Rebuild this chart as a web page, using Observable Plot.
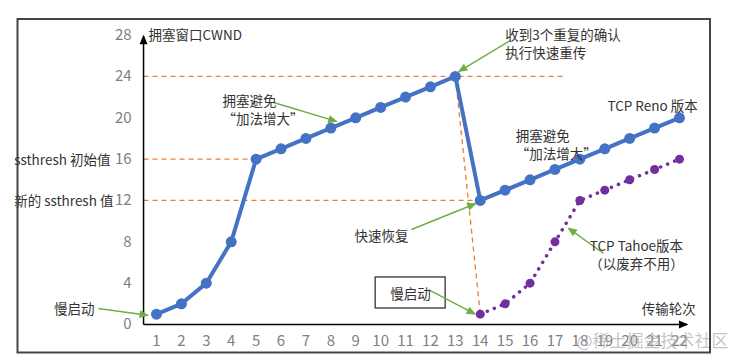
<!DOCTYPE html>
<html><head><meta charset="utf-8">
<script src="https://cdn.jsdelivr.net/npm/d3@7"></script>
<script src="https://cdn.jsdelivr.net/npm/@observablehq/plot@0.6"></script>
<style>body{margin:0;background:#fff} svg{display:block}</style>
</head><body><div id="chart"></div>
<script>
// ---- data ----
const renoRounds = [1,2,3,4,5,6,7,8,9,10,11,12,13,14,15,16,17,18,19,20,21,22];
const renoCwnd   = [1,2,4,8,16,17,18,19,20,21,22,23,24,12,13,14,15,16,17,18,19,20];
const tahoeRounds = [14,15,16,17,18,19,20,21,22];
const tahoeCwnd   = [1,2,4,8,12,13,14,15,16];
const xTickLabels = [1,2,3,4,5,6,7,8,9,10,11,12,13,14,15,16,17,18,19,20,21,22];
const yTickLabels = [0,4,8,12,16,20,24,28];

// ---- annotation layout ----
const AX0 = 0.48; // axis origin in round units
const refLines = [
  {x1: AX0, y1: 24, x2: 17.35, y2: 24},
  {x1: AX0, y1: 16, x2: 5, y2: 16},
  {x1: AX0, y1: 12, x2: 14, y2: 12},
  {x1: 13, y1: 24, x2: 14, y2: 1}
];
const axisArrows = [
  {x1: AX0, y1: 0, x2: AX0, y2: 27.9},
  {x1: AX0, y1: 0, x2: 22.3, y2: 0}
];
const noteArrows = [
  {x1: -1.33, y1: 1.55, x2: 0.64, y2: 0.9},
  {x1: 5.70, y1: 21.47, x2: 8.22, y2: 19.65},
  {x1: 15.2, y1: 27.47, x2: 13.15, y2: 24.5},
  {x1: 11.24, y1: 9.19, x2: 13.8, y2: 11.68},
  {x1: 11.92, y1: 3.38, x2: 13.78, y2: 1.02},
  {x1: 18.95, y1: 6.87, x2: 17.55, y2: 9.3}
];
const notes = [
  {x: 0.68, y: 28.05, text: "拥塞窗口CWND", anchor: "start"},
  {x: 22.65, y: 1.55, text: "传输轮次", anchor: "end"},
  {x: -0.85, y: 16, text: "ssthresh 初始值", anchor: "end"},
  {x: -0.73, y: 12, text: "新的 ssthresh 值", anchor: "end"},
  {x: -1.49, y: 1.55, text: "慢启动", anchor: "end"},
  {x: 3.65, y: 20.8, text: "拥塞避免\n“加法增大”", anchor: "start"},
  {x: 15.0, y: 27.2, text: "收到3个重复的确认\n执行快速重传", anchor: "start"},
  {x: 22.73, y: 21.2, text: "TCP Reno 版本", anchor: "end"},
  {x: 15.42, y: 17.4, text: "拥塞避免\n“加法增大”", anchor: "start"},
  {x: 11.12, y: 8.6, text: "快速恢复", anchor: "end"},
  {x: 11.2, y: 3.05, text: "慢启动", anchor: "middle"},
  {x: 20.27, y: 6.77, text: "TCP Tahoe版本\n（以废弃不用）", anchor: "middle"}
];
const noteBox = [{x1: 9.8, x2: 12.61, y1: 1.55, y2: 4.55}];
const watermark = [{x: 23.97, y: -1.65, text: "@稀土掘金技术社区"}];

const FONT = '"Noto Sans CJK SC", "Noto Sans", sans-serif';
const reno = renoRounds.map((r, i) => ({r, c: renoCwnd[i]}));
const tahoe = tahoeRounds.map((r, i) => ({r, c: tahoeCwnd[i]}));

const chart = Plot.plot({
  width: 741, height: 362,
  marginLeft: 156, marginRight: 62, marginTop: 34.6, marginBottom: 38,
  x: {domain: [1, 22], axis: null},
  y: {domain: [0, 28], axis: null},
  style: {fontFamily: FONT, overflow: "visible", background: "white"},
  marks: [
    Plot.link(refLines, {x1: "x1", y1: "y1", x2: "x2", y2: "y2", stroke: "#ed7d31", strokeWidth: 1.3, strokeDasharray: "5,4"}),
    Plot.link(axisArrows, {x1: "x1", y1: "y1", x2: "x2", y2: "y2", stroke: "#000", strokeWidth: 1.5, markerEnd: "arrow"}),
    Plot.line(tahoe, {x: "r", y: "c", stroke: "#7030a0", strokeWidth: 3.5, strokeDasharray: "0.1,7.5", strokeLinecap: "round"}),
    Plot.dot(tahoe, {x: "r", y: "c", r: 4.5, fill: "#7030a0"}),
    Plot.line(reno, {x: "r", y: "c", stroke: "#4472c4", strokeWidth: 4}),
    Plot.dot(reno, {x: "r", y: "c", r: 5.5, fill: "#4472c4"}),
    Plot.rect(noteBox, {x1: "x1", x2: "x2", y1: "y1", y2: "y2", fill: "white", stroke: "#333", strokeWidth: 1.3}),
    Plot.link(noteArrows, {x1: "x1", y1: "y1", x2: "x2", y2: "y2", stroke: "#70ad47", strokeWidth: 1.5, markerEnd: "arrow"}),
    Plot.text(xTickLabels, {x: d => d, y: 0, dy: 17, text: d => String(d), fill: "#7f7f7f", fontSize: 15, fontFamily: FONT}),
    Plot.text(yTickLabels, {x: AX0, y: d => d, dx: -12, text: d => String(d), textAnchor: "end", fill: "#7f7f7f", fontSize: 15, fontFamily: FONT}),
    Plot.text(notes.filter(n => n.anchor === "start"), {x: "x", y: "y", text: "text", textAnchor: "start", fill: "#333", fontSize: 13.5, lineHeight: 1.32, fontFamily: FONT}),
    Plot.text(notes.filter(n => n.anchor === "end"), {x: "x", y: "y", text: "text", textAnchor: "end", fill: "#333", fontSize: 13.5, lineHeight: 1.32, fontFamily: FONT}),
    Plot.text(notes.filter(n => n.anchor === "middle"), {x: "x", y: "y", text: "text", textAnchor: "middle", fill: "#333", fontSize: 13.5, lineHeight: 1.32, fontFamily: FONT}),
    Plot.text(watermark, {x: "x", y: "y", text: "text", textAnchor: "end", fill: "#aaa", fillOpacity: 0.7, fontSize: 17, fontFamily: FONT})
  ]
});

// filled triangle arrowheads
d3.select(chart).selectAll("marker").each(function() {
  const m = d3.select(this);
  const c = m.attr("stroke");
  m.attr("fill", c).attr("stroke", "none").attr("overflow", "visible");
  m.select("path").attr("d", "M-8,-4L1.5,0L-8,4Z");
});
// outer frame
d3.select(chart).append("rect")
  .attr("x", 17.5).attr("y", 19).attr("width", 692.5).attr("height", 333.5)
  .attr("fill", "none").attr("stroke", "#444").attr("stroke-width", 2);

document.getElementById("chart").appendChild(chart);
</script>
</body></html>
